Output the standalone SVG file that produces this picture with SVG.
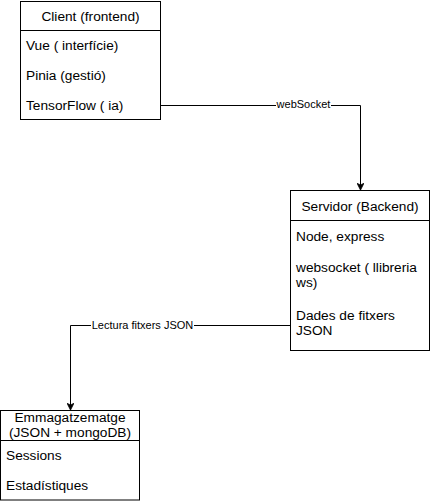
<svg xmlns="http://www.w3.org/2000/svg" width="431" height="501" viewBox="0 0 431 501">
<defs>
<style>
.box{fill:#fff;stroke:#000;stroke-width:1}
.t{font-family:"Liberation Sans",Arial,sans-serif;font-size:13.7px;fill:#000}
.c{text-anchor:middle}
.lbl{font-family:"Liberation Sans",Arial,sans-serif;font-size:11px;fill:#000;text-anchor:middle}
.edge{fill:none;stroke:#000;stroke-width:1}
</style>
<marker id="arr" viewBox="0 0 10 10" refX="9" refY="5" markerWidth="7" markerHeight="7" markerUnits="userSpaceOnUse" orient="auto">
<path d="M0,0 L10,5 L0,10 L2.5,5 z" fill="#000" stroke="#000" stroke-width="1"/>
</marker>
</defs>
<rect width="431" height="501" fill="#fff"/>
<g id="connectors">
<path class="edge" d="M160.5,105.5 H360.5 V189.5" marker-end="url(#arr)"/>
<rect x="276" y="98" width="55" height="13" fill="#fff"/>
<text class="lbl" x="303.5" y="108">webSocket</text>
<path class="edge" d="M290.5,325.5 H70.5 V409.5" marker-end="url(#arr)"/>
<rect x="91" y="318" width="103" height="13" fill="#fff"/>
<text class="lbl" x="142.5" y="329">Lectura fitxers JSON</text>
</g>
<g id="client">
<rect class="box" x="20.5" y="1.5" width="140" height="118"/>
<line class="edge" x1="20.5" y1="30.5" x2="160.5" y2="30.5"/>
<text class="t c" x="90.5" y="20.5">Client (frontend)</text>
<text class="t" x="26" y="50">Vue ( interfície)</text>
<text class="t" x="26" y="80">Pinia (gestió)</text>
<text class="t" x="26" y="110">TensorFlow ( ia)</text>
</g>
<g id="servidor">
<rect class="box" x="290.5" y="190.5" width="139" height="160"/>
<line class="edge" x1="290.5" y1="220.5" x2="429.5" y2="220.5"/>
<text class="t c" x="360" y="210.5">Servidor (Backend)</text>
<text class="t" x="296" y="240.5">Node, express</text>
<text class="t" x="296" y="272">websocket ( llibreria</text>
<text class="t" x="296" y="286.5">ws)</text>
<text class="t" x="296" y="320">Dades de fitxers</text>
<text class="t" x="296" y="334.5">JSON</text>
</g>
<g id="emmagatzematge">
<rect class="box" x="0.5" y="410.5" width="139" height="89.5"/>
<line class="edge" x1="0.5" y1="440.5" x2="139.5" y2="440.5"/>
<text class="t c" x="70" y="422">Emmagatzematge</text>
<text class="t c" x="70" y="436.5">(JSON + mongoDB)</text>
<text class="t" x="6" y="460">Sessions</text>
<text class="t" x="6" y="489.5">Estadístiques</text>
</g>
</svg>
